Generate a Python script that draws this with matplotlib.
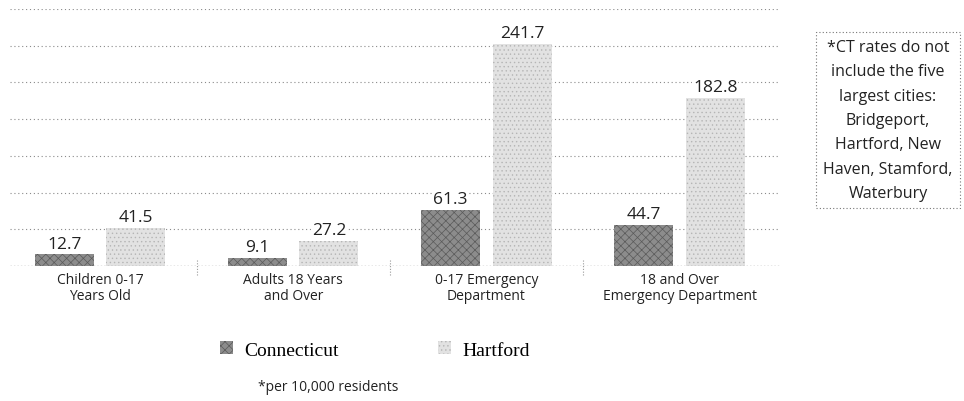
import matplotlib.pyplot as plt
from matplotlib.patches import Patch

# data
categories = ["Children 0-17\nYears Old", "Adults 18 Years\nand Over",
              "0-17 Emergency\nDepartment", "18 and Over\nEmergency Department"]
connecticut = [12.7, 9.1, 61.3, 44.7]
hartford = [41.5, 27.2, 241.7, 182.8]
gridlines = [40, 80, 120, 160, 200, 240, 280]

SANS = ["Open Sans", "DejaVu Sans"]
SERIF = ["Liberation Serif", "DejaVu Serif"]
CT_COLOR = "#8c8c8c"
HT_COLOR = "#e2e2e2"

fig = plt.figure(figsize=(9.64, 4.02), dpi=100)
ax = fig.add_axes([10 / 964, 135 / 402, 770 / 964, 257 / 402])

x = list(range(len(categories)))
w = 0.305
off = 0.185
plt.rcParams["hatch.linewidth"] = 0.5

b1 = ax.bar([i - off for i in x], connecticut, w, color=CT_COLOR,
            edgecolor="#5a5a5a", linewidth=0, hatch="xxxx", zorder=3)
b2 = ax.bar([i + off for i in x], hartford, w, color=HT_COLOR,
            edgecolor="#b5b5b5", linewidth=0, hatch="....", zorder=3)

for bars, vals in ((b1, connecticut), (b2, hartford)):
    for r, v in zip(bars, vals):
        ax.annotate(f"{v}", (r.get_x() + r.get_width() / 2, v),
                    xytext=(0, 2), textcoords="offset points",
                    ha="center", va="bottom", fontsize=12.5,
                    family=SANS, color="#222222", zorder=4,
                    bbox=dict(boxstyle="square,pad=0.05", fc="white", ec="none"))

for g in gridlines:
    ax.axhline(g, color="#8a8a8a", linestyle=(0, (1, 2.5)), linewidth=0.8, zorder=1)
ax.axhline(0, color="#8a8a8a", linestyle=(0, (1, 1.5)), linewidth=1.0, zorder=4)

# small separators between groups
for s in (0.5, 1.5, 2.5):
    ax.plot([s, s], [-10, 8], color="#9a9a9a", linestyle=(0, (1, 1.5)),
            linewidth=0.8, clip_on=False, zorder=4)

ax.set_xlim(-0.466, 3.52)
ax.set_ylim(0, 280)
ax.set_xticks(x)
ax.set_xticklabels(categories, fontsize=10, family=SANS, color="#222222",
                   linespacing=1.15)
ax.tick_params(axis="x", length=0, pad=4)
ax.set_yticks([])
for sp in ax.spines.values():
    sp.set_visible(False)

handles = [Patch(facecolor=CT_COLOR, edgecolor="#5a5a5a", hatch="xxxx", linewidth=0),
           Patch(facecolor=HT_COLOR, edgecolor="#b5b5b5", hatch="....", linewidth=0)]
fig.legend(handles, ["Connecticut", "Hartford"], loc="center",
           bbox_to_anchor=(375 / 964, 1 - 351 / 402), ncol=2, frameon=False,
           prop={"family": SERIF, "size": 14}, handlelength=0.65,
           handleheight=0.65, handletextpad=0.6, columnspacing=5.1)

fig.text(328 / 964, 1 - 388 / 402, "*per 10,000 residents", ha="center",
         va="center", fontsize=10, family=SANS, color="#222222")

fig.text(888 / 964, 1 - 121 / 402,
         "*CT rates do not\ninclude the five\nlargest cities:\nBridgeport,\n"
         "Hartford, New\nHaven, Stamford,\nWaterbury",
         ha="center", va="center", fontsize=11.5, family=SANS, color="#222222",
         linespacing=1.7,
         bbox=dict(boxstyle="square,pad=0.45", fc="white", ec="#777777",
                   linestyle=(0, (1, 2)), linewidth=0.8))

fig.savefig("out.png", dpi=100)
